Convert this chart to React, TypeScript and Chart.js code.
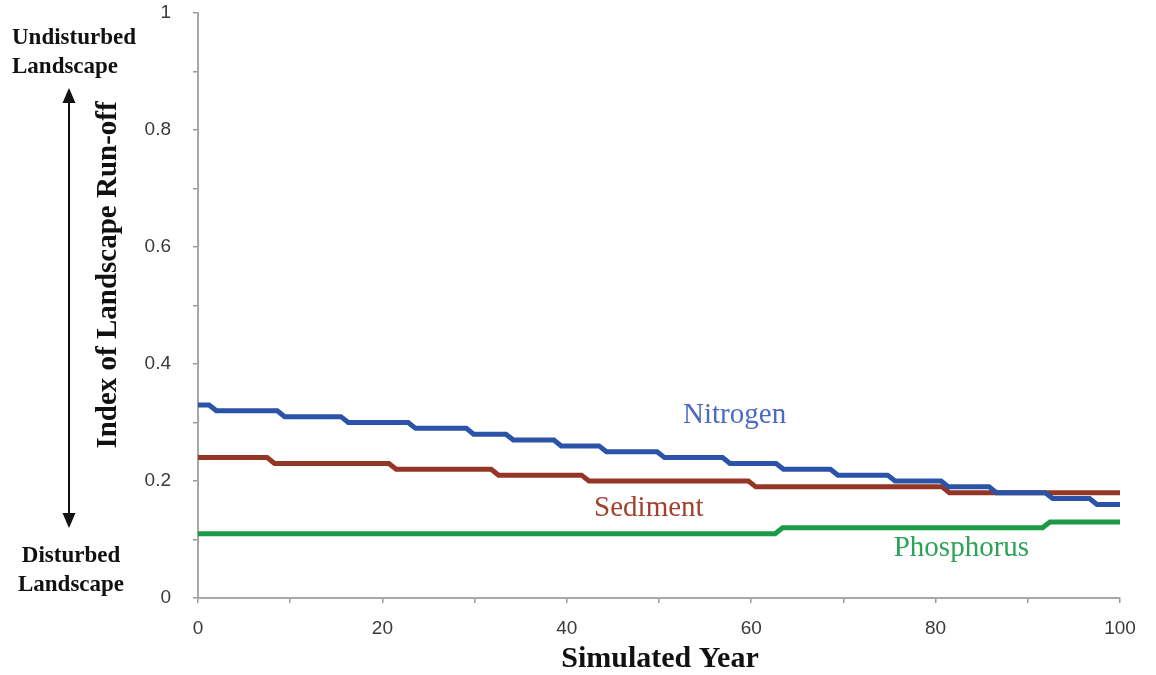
import React, { useEffect, useRef } from "react";
import { Chart, registerables } from "chart.js";

Chart.register(...registerables);

// ---- data ----
const nitrogenLevels = [0.33, 0.32, 0.31, 0.30, 0.29, 0.28, 0.27, 0.26, 0.25, 0.24, 0.23, 0.22, 0.21, 0.20, 0.19, 0.18, 0.17, 0.16];
const nitrogenChangeYears = [1.6, 9.0, 15.9, 23.2, 29.5, 33.8, 39.0, 43.9, 50.2, 57.3, 63.1, 69.0, 75.2, 81.0, 86.2, 92.3, 97.1];

const sedimentLevels = [0.24, 0.23, 0.22, 0.21, 0.20, 0.19, 0.18];
const sedimentChangeYears = [7.9, 21.1, 32.2, 42.0, 60.1, 81.1];

const phosphorusLevels = [0.11, 0.12, 0.13];
const phosphorusChangeYears = [63.0, 92.0];

const startYear = 0;
const endYear = 100;

const seriesNames = ["Nitrogen", "Sediment", "Phosphorus"];
const seriesLabelAnchors = [
  { x: 58.2, y: 0.313 },
  { x: 48.9, y: 0.154 },
  { x: 82.8, y: 0.084 },
];

const yTickLabelEvery = 0.2;
const xTickLabelEvery = 20;

// ---- styles ----
const lineColors = ["#2b53a7", "#943626", "#1c9a46"];
const textColors = ["#4a6bbf", "#a3412f", "#2ca357"];

function buildSteps(levels: number[], changes: number[]) {
  const pts: { x: number; y: number }[] = [{ x: startYear, y: levels[0] }];
  const half = 0.4;
  changes.forEach((c, i) => {
    pts.push({ x: c - half, y: levels[i] });
    pts.push({ x: c + half, y: levels[i + 1] });
  });
  pts.push({ x: endYear, y: levels[levels.length - 1] });
  return pts;
}

const annotationPlugin = {
  id: "annotations",
  afterDraw(chart: any) {
    const ctx = chart.ctx;
    const xs = chart.scales.x;
    const ys = chart.scales.y;
    ctx.save();
    // series labels
    ctx.font = "29px 'Liberation Serif', serif";
    ctx.textAlign = "center";
    ctx.textBaseline = "middle";
    seriesNames.forEach((n, i) => {
      ctx.fillStyle = textColors[i];
      ctx.fillText(n, xs.getPixelForValue(seriesLabelAnchors[i].x), ys.getPixelForValue(seriesLabelAnchors[i].y));
    });

    ctx.fillStyle = "#111";
    // Axis titles
    ctx.font = "bold 30px 'Liberation Serif', serif";
    ctx.fillText("Simulated Year", 660, 659);

    ctx.save();
    ctx.translate(109, 275);
    ctx.rotate(-Math.PI / 2);
    ctx.font = "bold 29px 'Liberation Serif', serif";
    ctx.fillText("Index of Landscape Run-off", 0, 0);
    ctx.restore();

    // side annotations
    ctx.font = "bold 23px 'Liberation Serif', serif";
    ctx.textAlign = "left";
    ctx.fillText("Undisturbed", 12, 38);
    ctx.fillText("Landscape", 12, 67);
    ctx.textAlign = "center";
    ctx.fillText("Disturbed", 71, 556);
    ctx.fillText("Landscape", 71, 585);

    // arrow
    ctx.strokeStyle = "#111";
    ctx.lineWidth = 2;
    ctx.beginPath();
    ctx.moveTo(69, 100);
    ctx.lineTo(69, 516);
    ctx.stroke();
    ctx.beginPath();
    ctx.moveTo(69, 88);
    ctx.lineTo(62.5, 103);
    ctx.lineTo(75.5, 103);
    ctx.closePath();
    ctx.fill();
    ctx.beginPath();
    ctx.moveTo(69, 528);
    ctx.lineTo(62.5, 513);
    ctx.lineTo(75.5, 513);
    ctx.closePath();
    ctx.fill();
    ctx.restore();
  },
};

export default function App() {
  const ref = useRef<HTMLCanvasElement | null>(null);
  useEffect(() => {
    if (!ref.current) return;
    const fmt = (v: number) => {
      const r = Math.round(v * 10) / 10;
      return String(r);
    };
    const chart = new Chart(ref.current, {
      type: "line",
      data: {
        datasets: [
          { label: seriesNames[0], data: buildSteps(nitrogenLevels, nitrogenChangeYears) },
          { label: seriesNames[1], data: buildSteps(sedimentLevels, sedimentChangeYears) },
          { label: seriesNames[2], data: buildSteps(phosphorusLevels, phosphorusChangeYears) },
        ].map((d, i) => ({
          ...d,
          borderColor: lineColors[i],
          backgroundColor: lineColors[i],
          borderWidth: 5,
          pointRadius: 0,
          tension: 0,
          fill: false,
        })),
      },
      options: {
        animation: false,
        responsive: false,
        layout: { padding: { left: 0, top: 13, right: 36, bottom: 0 } },
        plugins: { legend: { display: false }, tooltip: { enabled: false }, title: { display: false } },
        scales: {
          x: {
            type: "linear",
            min: startYear,
            max: endYear,
            afterFit: (s: any) => { s.height = 77; s.paddingLeft = 0; s.paddingRight = 0; },
            grid: { drawOnChartArea: false, drawTicks: true, tickLength: 5, color: "#9a9a9a", lineWidth: 1.5 },
            border: { display: true, color: "#a8a8a8", width: 2 },
            ticks: {
              stepSize: 10,
              autoSkip: false,
              maxRotation: 0,
              padding: 14,
              color: "#3a3a3a",
              font: { family: "'Liberation Sans', sans-serif", size: 19 },
              callback: (v: any) => {
                const n = Number(v);
                return Math.abs(n / xTickLabelEvery - Math.round(n / xTickLabelEvery)) < 1e-6 ? fmt(n) : "";
              },
            },
          },
          y: {
            min: 0,
            max: 1,
            afterFit: (s: any) => { s.width = 198; s.paddingTop = 0; s.paddingBottom = 0; },
            grid: { drawOnChartArea: false, drawTicks: true, tickLength: 5, color: "#9a9a9a", lineWidth: 1.5 },
            border: { display: true, color: "#a8a8a8", width: 2 },
            ticks: {
              stepSize: 0.1,
              autoSkip: false,
              padding: 22,
              color: "#3a3a3a",
              font: { family: "'Liberation Sans', sans-serif", size: 19 },
              callback: (v: any) => {
                const n = Number(v);
                const k = n / yTickLabelEvery;
                return Math.abs(k - Math.round(k)) < 1e-6 ? fmt(n) : "";
              },
            },
          },
        },
      },
      plugins: [annotationPlugin],
    } as any);
    return () => chart.destroy();
  }, []);
  return (
    <div style={{ position: "fixed", left: 0, top: 0, width: 1156, height: 675, background: "#fff" }}>
      <canvas ref={ref} width={1156} height={675} style={{ width: 1156, height: 675, display: "block" }} />
    </div>
  );
}
